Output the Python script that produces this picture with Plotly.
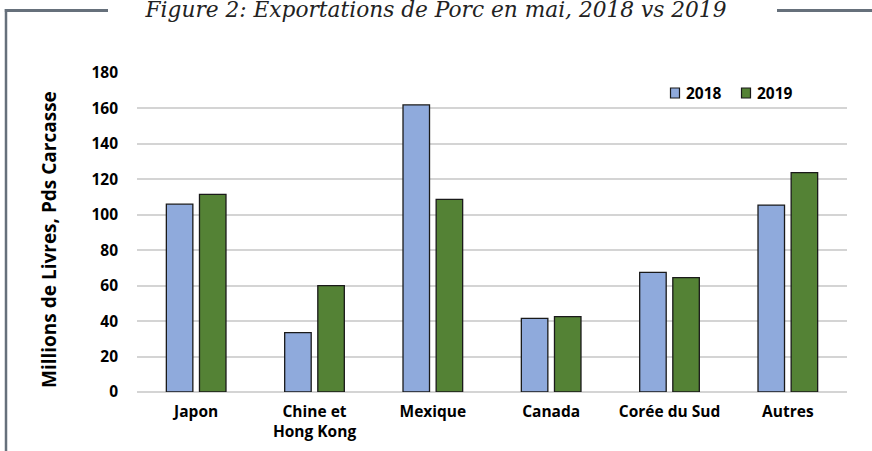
import plotly.graph_objects as go

categories = ["Japon", "Chine et<br>Hong Kong", "Mexique", "Canada", "Corée du Sud", "Autres"]
values_2018 = [106, 33.5, 162, 41.6, 67.5, 105.5]
values_2019 = [111.5, 60, 108.7, 42.5, 64.5, 123.8]
series_names = ["2018", "2019"]
series_colors = ["#8FAADC", "#548235"]
y_ticks = [0, 20, 40, 60, 80, 100, 120, 140, 160, 180]

W, H = 872, 451
L, R, T, B = 137, 25, 73, 59
pw, ph = W - L - R, H - T - B

def px(x):
    return (x - L) / pw

def py(y):
    return (H - B - y) / ph

fig = go.Figure()
for name, vals, col in zip(series_names, [values_2018, values_2019], series_colors):
    fig.add_trace(go.Bar(x=categories, y=vals, name=name, showlegend=False,
                         marker=dict(color=col, line=dict(color="#1a1a1a", width=1.3))))

frame_color = "#66707b"
shapes = [
    dict(type="line", xref="paper", yref="paper", x0=px(6), x1=px(6), y0=py(9), y1=py(H + 5),
         line=dict(color=frame_color, width=2.5)),
    dict(type="line", xref="paper", yref="paper", x0=px(4.8), x1=px(108), y0=py(10.5), y1=py(10.5),
         line=dict(color=frame_color, width=3)),
    dict(type="line", xref="paper", yref="paper", x0=px(777), x1=px(W + 5), y0=py(10.5), y1=py(10.5),
         line=dict(color=frame_color, width=3)),
]

tick_font = dict(family="Open Sans", size=15.5, color="black", weight="bold")

annotations = [dict(text="Millions de Livres, Pds Carcasse", textangle=-90, xref="paper", yref="paper",
                    x=px(49), y=py(240), xanchor="center", yanchor="middle", showarrow=False,
                    font=dict(family="Open Sans", size=19, color="black", weight="bold"))]

# custom legend (marker squares + labels)
legend_x = [670, 741]
for lx, name, col in zip(legend_x, series_names, series_colors):
    shapes.append(dict(type="rect", xref="paper", yref="paper",
                       x0=px(lx + 0.5), x1=px(lx + 9.5), y0=py(88), y1=py(98),
                       fillcolor=col, line=dict(color="#1a1a1a", width=1.2)))
    annotations.append(dict(text=name, xref="paper", yref="paper", x=px(lx + 14), y=py(93),
                            xanchor="left", yanchor="middle", showarrow=False, font=tick_font))

fig.update_layout(
    width=W, height=H,
    margin=dict(l=L, r=R, t=T, b=B, autoexpand=False),
    paper_bgcolor="white", plot_bgcolor="white",
    barmode="group", bargap=0.44, bargroupgap=0.2,
    title=dict(text="Figure 2: Exportations de Porc en mai, 2018 vs 2019",
               font=dict(family="DejaVu Serif", size=21.7, color="#222222", style="italic", weight="normal"),
               x=0.5, xanchor="center", xref="container",
               y=1 - 9.5 / H, yanchor="middle", yref="container"),
    font=dict(family="Open Sans", size=15.5, color="black"),
    xaxis=dict(showgrid=False, showline=False, zeroline=False, ticks="", automargin=False,
               tickfont=tick_font, ticklabelstandoff=8),
    yaxis=dict(range=[0, 180], tickvals=y_ticks, showgrid=True, gridcolor="#d4d4d4", gridwidth=1.5,
               zeroline=True, zerolinecolor="#d4d4d4", zerolinewidth=1.5, showline=False, ticks="",
               automargin=False, tickfont=tick_font, ticklabelstandoff=18),
    showlegend=False,
    shapes=shapes,
    annotations=annotations,
)

fig.write_html("out.html", config={"displayModeBar": False},
               post_script="document.body.style.margin='0';")
